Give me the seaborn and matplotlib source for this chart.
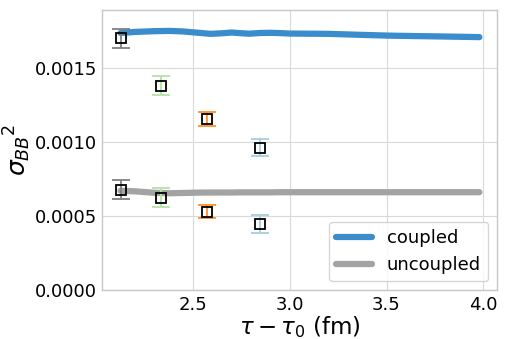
import numpy as np
import pandas as pd
import matplotlib
matplotlib.use("Agg")
import matplotlib.pyplot as plt
import seaborn as sns

# Continuous curves
line_x = [2.125, 2.20, 2.30, 2.38, 2.45, 2.52, 2.59, 2.65, 2.70, 2.75, 2.79, 2.85, 2.90, 2.95, 3.00, 3.10, 3.20, 3.35, 3.51, 3.65, 3.80, 3.98]
coupled = [0.001738, 0.001745, 0.001750, 0.001752, 0.001748, 0.001740, 0.001732, 0.001736, 0.001741, 0.001736, 0.001733, 0.001738, 0.001739, 0.001737, 0.001734, 0.001733, 0.001732, 0.001726, 0.001720, 0.001717, 0.001714, 0.001710]
uncoupled = [0.000672, 0.000668, 0.000658, 0.000655, 0.000657, 0.000659, 0.000660, 0.000660, 0.000660, 0.000661, 0.000661, 0.000661, 0.000661, 0.000662, 0.000662, 0.000662, 0.000662, 0.000662, 0.000662, 0.000662, 0.000662, 0.000662]

# Discrete points with error bars
pt_x = [2.126, 2.334, 2.571, 2.847]
pt_upper = [0.001703, 0.001381, 0.001158, 0.000964]
pt_upper_err = [0.000064, 0.000065, 0.000047, 0.000060]
pt_lower = [0.000678, 0.000624, 0.000531, 0.000448]
pt_lower_err = [0.000065, 0.000064, 0.000046, 0.000060]
pt_colors = ["#808080", "#b5e2a5", "#ff8f2a", "#a6cee3"]

sns.set_theme(style="whitegrid")
plt.rcParams['font.family'] = ['DejaVu Sans']

fig = plt.figure(figsize=(5.12, 3.39), dpi=100)
ax = fig.add_axes([0.2, 0.144, 0.771, 0.826])

df = pd.DataFrame({"x": line_x + line_x,
                   "y": coupled + uncoupled,
                   "kind": ["coupled"] * len(line_x) + ["uncoupled"] * len(line_x)})
sns.lineplot(data=df, x="x", y="y", hue="kind",
             palette={"coupled": "#3a8ccc", "uncoupled": "#a3a3a3"},
             linewidth=4.5, ax=ax, legend=True)

for x, yu, eu, yl, el, c in zip(pt_x, pt_upper, pt_upper_err, pt_lower, pt_lower_err, pt_colors):
    for y, e in ((yu, eu), (yl, el)):
        ax.errorbar([x], [y], yerr=[e], fmt="none", ecolor=c, elinewidth=1.3,
                    capsize=6.5, capthick=1.3, zorder=3)
        ax.plot([x], [y], marker="s", ms=7, mfc="none", mec="black", mew=1.3,
                ls="none", zorder=4)

ax.set_xlim(2.031, 4.072)
ax.set_ylim(0, 0.001892)
ax.set_xticks([2.5, 3.0, 3.5, 4.0])
ax.set_yticks([0.0, 0.0005, 0.0010, 0.0015])
ax.set_yticklabels(["0.0000", "0.0005", "0.0010", "0.0015"])
ax.tick_params(labelsize=13, colors="black", length=0, pad=4)
ax.set_xlabel(r"$\tau - \tau_0$ (fm)", fontsize=16.5, labelpad=0, color="black")
ax.set_ylabel(r"$\sigma_{BB}{}^2$", fontsize=18, labelpad=1, color="black")
for s in ax.spines.values():
    s.set_color("#c8c8c8")
    s.set_linewidth(1)
ax.grid(color="#d9d9d9", linewidth=0.8)

leg = ax.legend(loc="lower right", fontsize=13, frameon=True, handlelength=2.0)
leg.set_title(None)
for h in leg.get_lines():
    h.set_linewidth(4.5)
for t in leg.get_texts():
    t.set_color("black")

fig.savefig("out.png", dpi=100)
